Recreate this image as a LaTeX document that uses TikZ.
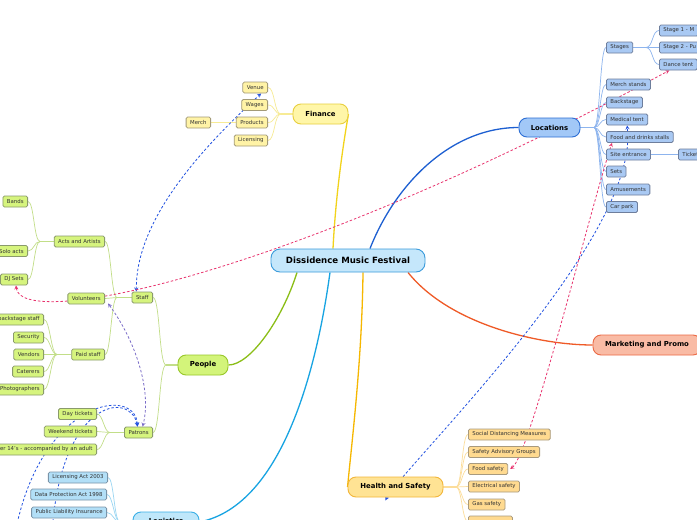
\documentclass[tikz,border=0pt]{standalone}
\usepackage{fontspec}
\setmainfont{DejaVu Sans}
\usepackage{xcolor}
\usepackage{tikz}
\usetikzlibrary{arrows, positioning, calc, backgrounds}

% colours of the map
\definecolor{rootfill}{HTML}{C5E7FB}
\definecolor{rootdraw}{HTML}{3B9BDB}
\definecolor{leaftext}{HTML}{333333}
\definecolor{finfill}{HTML}{FFF6A8}
\definecolor{findraw}{HTML}{E8CF3E}
\definecolor{finline}{HTML}{F2D31B}
\definecolor{finleaf}{HTML}{FFF3A6}
\definecolor{finleafdraw}{HTML}{A39B78}
\definecolor{finbranch}{HTML}{F7EB95}
\definecolor{locfill}{HTML}{A2C8F7}
\definecolor{locdraw}{HTML}{2D6ED4}
\definecolor{locline}{HTML}{1D5FD1}
\definecolor{locleaf}{HTML}{A9C9F3}
\definecolor{locleafdraw}{HTML}{6E7E9C}
\definecolor{locbranch}{HTML}{8DB4EE}
\definecolor{pplfill}{HTML}{D3F47A}
\definecolor{ppldraw}{HTML}{98C72A}
\definecolor{pplline}{HTML}{8BBE17}
\definecolor{pplleaf}{HTML}{D6F47E}
\definecolor{pplleafdraw}{HTML}{8A9A6C}
\definecolor{pplbranch}{HTML}{C2DE88}
\definecolor{hsfill}{HTML}{FFE394}
\definecolor{hsdraw}{HTML}{F2B63A}
\definecolor{hsline}{HTML}{F6B700}
\definecolor{hsleaf}{HTML}{FFDA90}
\definecolor{hsleafdraw}{HTML}{A89A7E}
\definecolor{hsbranch}{HTML}{FCDD9A}
\definecolor{mktfill}{HTML}{F9BBA5}
\definecolor{mktdraw}{HTML}{EB6A45}
\definecolor{mktline}{HTML}{EF5A27}
\definecolor{logfill}{HTML}{BFE7FA}
\definecolor{logdraw}{HTML}{3AAFE6}
\definecolor{logline}{HTML}{18A4E2}
\definecolor{logleaf}{HTML}{B2DFF7}
\definecolor{logleafdraw}{HTML}{7A94A8}
\definecolor{logbranch}{HTML}{9AD6F2}
\definecolor{relblue}{HTML}{2050E0}
\definecolor{relpink}{HTML}{E8336E}
\definecolor{relpurple}{HTML}{7A6CC8}

\tikzset{
  root/.style={draw=rootdraw, fill=rootfill, line width=0.9pt, rounded corners=9pt,
    minimum width=154pt, minimum height=23pt, font=\bfseries\fontsize{8.6}{10}\selectfont},
  topic/.style 2 args={draw=#2, fill=#1, line width=0.9pt, rounded corners=8pt,
    minimum height=20pt, font=\bfseries\fontsize{6.9}{8}\selectfont},
  leaf/.style 2 args={draw=#2, fill=#1, line width=0.8pt, rounded corners=1.5pt, text=leaftext,
    minimum height=11pt, inner xsep=4pt, inner ysep=0pt, font=\fontsize{5.4}{6}\selectfont},
  rel/.style={dashed, dash pattern=on 2.5pt off 2pt, line width=0.8pt, >=stealth},
}

\begin{document}
\begin{tikzpicture}[x=1pt, y=-1pt]
    \useasboundingbox (0,0) rectangle (697,520);
    \clip (0,0) rectangle (697,520);

    % Central topic and main topics
    \node[root] (central) at (348,260.5) {Dissidence Music Festival};
    \node[topic={finfill}{findraw}, minimum width=55pt] (finance) at (320.5,114) {Finance};
    \node[topic={locfill}{locdraw}, minimum width=61pt, minimum height=19pt] (locations) at (549.5,127.5) {Locations};
    \node[topic={mktfill}{mktdraw}, minimum width=108pt] (marketing) at (647,345) {Marketing and Promo};
    \node[topic={hsfill}{hsdraw}, minimum width=95pt] (health) at (395.5,487) {Health and Safety};
    \node[topic={pplfill}{ppldraw}, minimum width=50pt] (people) at (203,365) {People};
    \node[topic={logfill}{logdraw}, minimum width=66pt] (logistics) at (166,522) {Logistics};

    % Finance
    \node[leaf={finleaf}{finleafdraw}, anchor=east] (venue) at (268,87.5) {Venue};
    \node[leaf={finleaf}{finleafdraw}, anchor=east] (wages) at (268,105) {Wages};
    \node[leaf={finleaf}{finleafdraw}, anchor=east] (products) at (268,122.5) {Products};
    \node[leaf={finleaf}{finleafdraw}, anchor=east] (licensing) at (268,140.5) {Licensing};
    \node[leaf={finleaf}{finleafdraw}, anchor=east] (merch) at (211,122.5) {Merch};

    % Locations
    \node[leaf={locleaf}{locleafdraw}, anchor=west] (stages) at (606,47.5) {Stages};
    \node[leaf={locleaf}{locleafdraw}, anchor=west] (merchst) at (606,84.5) {Merch stands};
    \node[leaf={locleaf}{locleafdraw}, anchor=west] (backstage) at (606,102.5) {Backstage};
    \node[leaf={locleaf}{locleafdraw}, anchor=west] (medical) at (606,119.5) {Medical tent};
    \node[leaf={locleaf}{locleafdraw}, anchor=west] (foodst) at (606,137) {Food and drinks stalls};
    \node[leaf={locleaf}{locleafdraw}, anchor=west] (site) at (606,154.5) {Site entrance};
    \node[leaf={locleaf}{locleafdraw}, anchor=west] (sets) at (606,171.5) {Sets};
    \node[leaf={locleaf}{locleafdraw}, anchor=west] (amuse) at (606,189.5) {Amusements};
    \node[leaf={locleaf}{locleafdraw}, anchor=west] (carpark) at (606,207) {Car park};
    \node[leaf={locleaf}{locleafdraw}, anchor=west] (stageone) at (659,30.5) {Stage 1 - M};
    \node[leaf={locleaf}{locleafdraw}, anchor=west] (stagetwo) at (659,47.5) {Stage 2 - Pu};
    \node[leaf={locleaf}{locleafdraw}, anchor=west] (dance) at (659,64.5) {Dance tent};
    \node[leaf={locleaf}{locleafdraw}, anchor=west] (ticket) at (678,154.5) {Ticket};

    % Health and Safety
    \node[leaf={hsleaf}{hsleafdraw}, anchor=west] (distancing) at (468,434.5) {Social Distancing Measures};
    \node[leaf={hsleaf}{hsleafdraw}, anchor=west] (advisory) at (468,452) {Safety Advisory Groups};
    \node[leaf={hsleaf}{hsleafdraw}, anchor=west] (foodsafety) at (468,469) {Food safety};
    \node[leaf={hsleaf}{hsleafdraw}, anchor=west] (electrical) at (468,486.5) {Electrical safety};
    \node[leaf={hsleaf}{hsleafdraw}, anchor=west] (gas) at (468,504.5) {Gas safety};
    \node[leaf={hsleaf}{hsleafdraw}, anchor=west, minimum width=44pt] (hsmore) at (468,521.5) {};

    % People
    \node[leaf={pplleaf}{pplleafdraw}, anchor=east] (staff) at (153,297.5) {Staff};
    \node[leaf={pplleaf}{pplleafdraw}, anchor=east] (patrons) at (153,432.5) {Patrons};
    \node[leaf={pplleaf}{pplleafdraw}, anchor=east] (acts) at (105,241.5) {Acts and Artists};
    \node[leaf={pplleaf}{pplleafdraw}, anchor=east] (vol) at (105,298.5) {Volunteers};
    \node[leaf={pplleaf}{pplleafdraw}, anchor=east] (paid) at (105,354.5) {Paid staff};
    \node[leaf={pplleaf}{pplleafdraw}, anchor=east] (bands) at (28,201.5) {Bands};
    \node[leaf={pplleaf}{pplleafdraw}, anchor=east] (solo) at (28,251) {Solo acts};
    \node[leaf={pplleaf}{pplleafdraw}, anchor=east] (dj) at (28,279.5) {DJ Sets};
    \node[leaf={pplleaf}{pplleafdraw}, anchor=east] (bstaff) at (44,319.5) {backstage staff};
    \node[leaf={pplleaf}{pplleafdraw}, anchor=east] (security) at (44,337.5) {Security};
    \node[leaf={pplleaf}{pplleafdraw}, anchor=east] (vendors) at (44,354.5) {Vendors};
    \node[leaf={pplleaf}{pplleafdraw}, anchor=east] (caterers) at (44,371.5) {Caterers};
    \node[leaf={pplleaf}{pplleafdraw}, anchor=east] (photo) at (44,389.5) {Photographers};
    \node[leaf={pplleaf}{pplleafdraw}, anchor=east] (day) at (97,414) {Day tickets};
    \node[leaf={pplleaf}{pplleafdraw}, anchor=east] (weekend) at (97,431.5) {Weekend tickets};
    \node[leaf={pplleaf}{pplleafdraw}, anchor=east] (under) at (97,449.5) {Under 14's - accompanied by an adult};

    % Logistics
    \node[leaf={logleaf}{logleafdraw}, anchor=east] (licact) at (108,477.5) {Licensing Act 2003};
    \node[leaf={logleaf}{logleafdraw}, anchor=east] (dpa) at (107,494.5) {Data Protection Act 1998};
    \node[leaf={logleaf}{logleafdraw}, anchor=east] (pli) at (107,512.5) {Public Liability Insurance};

    % junctions of the branches
    \coordinate (fj) at (281,114);
    \coordinate (lj) at (594,127.5);
    \coordinate (sj) at (646,47.5);
    \coordinate (hj) at (456,487);
    \coordinate (pj) at (166,365);
    \coordinate (stj) at (117,297.5);
    \coordinate (aj) at (40,241.5);
    \coordinate (psj) at (57,354.5);
    \coordinate (ptj) at (110,432.5);
    \coordinate (gj) at (120,522);
    \coordinate (offa) at (15,534);
    \coordinate (offb) at (52,534);

    \begin{scope}[on background layer]
    \fill[white] (0,0) rectangle (697,520);

    % branches from the centre
    \draw[finline, line width=1.3pt] ([xshift=-15pt]central.north) .. controls (336,190) and (344,140) .. (finance.east);
    \draw[locline, line width=1.3pt] ([xshift=22pt]central.north) .. controls (395,185) and (450,127.5) .. (locations.west);
    \draw[mktline, line width=1.3pt] ([xshift=60pt]central.south) .. controls (450,325) and (540,345) .. (marketing.west);
    \draw[hsline, line width=1.3pt] ([xshift=15pt]central.south) .. controls (362,360) and (352,440) .. (health.west);
    \draw[logline, line width=1.3pt] ([xshift=-18pt]central.south) .. controls (318,360) and (285,505) .. (logistics.east);
    \draw[pplline, line width=1.3pt] ([xshift=-51pt]central.south) .. controls (282,320) and (250,365) .. (people.east);

    % Finance branches
    \draw[finbranch, line width=1.2pt] (finance.west) -- (fj);
    \foreach \c in {venue,wages,products,licensing}
        \draw[finbranch, line width=0.7pt] (fj) .. controls +(-7,0) and +(7,0) .. (\c.east);
    \draw[finbranch, line width=1.2pt] (products.west) -- (merch.east);

    % Locations branches
    \draw[locbranch, line width=1.2pt] (locations.east) -- (lj);
    \foreach \c in {stages,merchst,backstage,medical,foodst,site,sets,amuse,carpark}
        \draw[locbranch, line width=0.7pt] (lj) .. controls +(6,0) and +(-6,0) .. (\c.west);
    \draw[locbranch, line width=1.2pt] (stages.east) -- (sj);
    \foreach \c in {stageone,stagetwo,dance}
        \draw[locbranch, line width=0.7pt] (sj) .. controls +(7,0) and +(-7,0) .. (\c.west);
    \draw[locbranch, line width=1.2pt] (site.east) -- (ticket.west);

    % Health and Safety branches
    \draw[hsbranch, line width=1.2pt] (health.east) -- (hj);
    \foreach \c in {distancing,advisory,foodsafety,electrical,gas,hsmore}
        \draw[hsbranch, line width=0.7pt] (hj) .. controls +(6,0) and +(-6,0) .. (\c.west);

    % People branches
    \draw[pplbranch, line width=1.2pt] (people.west) -- (pj);
    \foreach \c in {staff,patrons}
        \draw[pplbranch, line width=0.7pt] (pj) .. controls +(-7,0) and +(7,0) .. (\c.east);
    \draw[pplbranch, line width=1.2pt] (staff.west) -- (stj);
    \foreach \c in {acts,vol,paid}
        \draw[pplbranch, line width=0.7pt] (stj) .. controls +(-6,0) and +(6,0) .. (\c.east);
    \draw[pplbranch, line width=1.2pt] (acts.west) -- (aj);
    \foreach \c in {bands,solo,dj}
        \draw[pplbranch, line width=0.7pt] (aj) .. controls +(-6,0) and +(6,0) .. (\c.east);
    \draw[pplbranch, line width=1.2pt] (paid.west) -- (psj);
    \foreach \c in {bstaff,security,vendors,caterers,photo}
        \draw[pplbranch, line width=0.7pt] (psj) .. controls +(-6,0) and +(6,0) .. (\c.east);
    \draw[pplbranch, line width=1.2pt] (patrons.west) -- (ptj);
    \foreach \c in {day,weekend,under}
        \draw[pplbranch, line width=0.7pt] (ptj) .. controls +(-6,0) and +(6,0) .. (\c.east);

    % Logistics branches
    \draw[logbranch, line width=1.2pt] (logistics.west) -- (gj);
    \foreach \c in {licact,dpa,pli}
        \draw[logbranch, line width=0.7pt] (gj) .. controls +(-6,0) and +(6,0) .. (\c.east);

    % relationships
    \draw[rel, relblue, <->] ([xshift=-6pt]staff.north) .. controls (136,220) and (200,150) .. ([xshift=6pt]venue.south);
    \draw[rel, relpink, <->] ([xshift=2pt]dj.south) .. controls (20,330) and (280,280) .. ([xshift=-9pt]dance.south);
    \draw[rel, relpurple, <->] ([xshift=3pt, yshift=1pt]vol.south east) .. controls (135,340) and (152,390) .. ([xshift=4pt]patrons.north);
    \draw[rel, relblue, <-] ([xshift=-1pt]patrons.north) .. controls (135,385) and (40,400) .. (offa);
    \draw[rel, relblue, <-] ([xshift=-1pt]patrons.north) .. controls (130,390) and (60,400) .. (offb);
    \draw[rel, relblue, <->] ([xshift=-10pt, yshift=-3pt]health.south) .. controls (400,470) and (640,240) .. (medical.south);
    \draw[rel, relpink, <->] ([xshift=2pt]foodsafety.east) .. controls (530,455) and (590,210) .. ([xshift=6pt]foodst.south west);
    \end{scope}
\end{tikzpicture}
\end{document}
